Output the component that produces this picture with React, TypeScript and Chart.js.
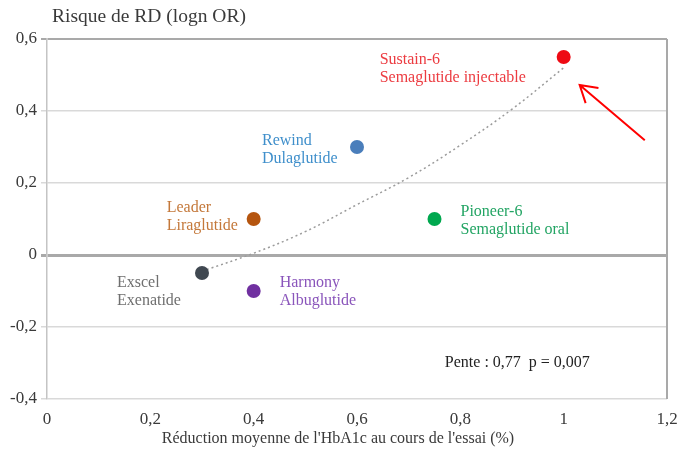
import { useEffect, useRef } from "react";
import { Chart, registerables } from "chart.js";

Chart.register(...registerables);

// ---- Data ----
const trialNames = ["Sustain-6", "Rewind", "Leader", "Pioneer-6", "Exscel", "Harmony"];
const drugNames = ["Semaglutide injectable", "Dulaglutide", "Liraglutide", "Semaglutide oral", "Exenatide", "Albuglutide"];
const hba1cReduction = [1.0, 0.6, 0.4, 0.75, 0.3, 0.4];
const rdLognOR = [0.55, 0.3, 0.1, 0.1, -0.05, -0.1];

// dotted trend curve
const trendX = [0.3, 0.4, 0.5, 0.6, 0.7, 0.8, 0.9, 1.0];
const trendY = [-0.045, 0.005, 0.065, 0.14, 0.215, 0.305, 0.405, 0.52];

const xTicks = [0, 0.2, 0.4, 0.6, 0.8, 1, 1.2];
const yTicks = [-0.4, -0.2, 0, 0.2, 0.4, 0.6];

const yAxisTitle = "Risque de RD (logn OR)";
const xAxisTitle = "Réduction moyenne de l'HbA1c au cours de l'essai (%)";
const statsText = "Pente : 0,77  p = 0,007";
const statsAt = [0.77, -0.3];

// red arrow annotation (data coordinates): tail -> tip
const arrowTail = [1.157, 0.319];
const arrowTip = [1.031, 0.472];

// ---- Styles ----
const pointColors = ["#ee0a14", "#4a7ebb", "#b5550f", "#00a84f", "#404851", "#7030a0"];
const labelColors = ["#ec3b40", "#3f8fcb", "#c4783a", "#22a463", "#6f6f6f", "#8a55bb"];
// label offsets in pixels from the marker centre: [dx, dy of first line]
const labelOffsets = [
  [-184, 3],
  [-95, -6],
  [-87, -11],
  [26, -7],
  [-85, 10],
  [26, -8],
];
const SERIF = "'Liberation Serif', 'Times New Roman', serif";
const TEXT_COLOR = "#3a3a3a";

const fmt = (v: number) => {
  const r = Math.round(v * 10) / 10;
  return String(r).replace(".", ",");
};

const annotationPlugin = {
  id: "annotations",
  afterDatasetsDraw(chart: any) {
    const { ctx, scales, chartArea } = chart;
    const xs = scales.x;
    const ys = scales.y;
    ctx.save();

    // right border
    ctx.strokeStyle = "#a9a9a9";
    ctx.lineWidth = 2;
    ctx.beginPath();
    ctx.moveTo(chartArea.right, chartArea.top);
    ctx.lineTo(chartArea.right, chartArea.bottom);
    ctx.stroke();

    // point labels
    ctx.font = `16px ${SERIF}`;
    ctx.textBaseline = "middle";
    ctx.textAlign = "left";
    hba1cReduction.forEach((xv, i) => {
      const px = xs.getPixelForValue(xv);
      const py = ys.getPixelForValue(rdLognOR[i]);
      const [dx, dy] = labelOffsets[i];
      ctx.fillStyle = labelColors[i];
      ctx.fillText(trialNames[i], px + dx, py + dy);
      ctx.fillText(drugNames[i], px + dx, py + dy + 18);
    });

    // stats text
    ctx.fillStyle = "#222";
    ctx.font = `16px ${SERIF}`;
    ctx.fillText(statsText, xs.getPixelForValue(statsAt[0]), ys.getPixelForValue(statsAt[1]));

    // arrow
    const tx = xs.getPixelForValue(arrowTail[0]);
    const ty = ys.getPixelForValue(arrowTail[1]);
    const hx = xs.getPixelForValue(arrowTip[0]);
    const hy = ys.getPixelForValue(arrowTip[1]);
    ctx.strokeStyle = "#ff0000";
    ctx.lineWidth = 2;
    ctx.beginPath();
    ctx.moveTo(tx, ty);
    ctx.lineTo(hx, hy);
    const ang = Math.atan2(ty - hy, tx - hx);
    const L = 19;
    const spread = 0.55;
    ctx.moveTo(hx + L * Math.cos(ang - spread), hy + L * Math.sin(ang - spread));
    ctx.lineTo(hx, hy);
    ctx.lineTo(hx + L * Math.cos(ang + spread), hy + L * Math.sin(ang + spread));
    ctx.stroke();

    // axis titles
    ctx.fillStyle = TEXT_COLOR;
    ctx.font = `19.5px ${SERIF}`;
    ctx.textAlign = "left";
    ctx.fillText(yAxisTitle, 52, 17);
    ctx.font = `16px ${SERIF}`;
    ctx.textAlign = "center";
    ctx.fillText(xAxisTitle, 338, 439);

    ctx.restore();
  },
};

export default function App() {
  const canvasRef = useRef<HTMLCanvasElement | null>(null);

  useEffect(() => {
    document.body.style.margin = "0";
    const canvas = canvasRef.current;
    if (!canvas) return;
    const chart = new Chart(canvas, {
      type: "scatter",
      data: {
        datasets: [
          {
            type: "scatter",
            data: hba1cReduction.map((x, i) => ({ x, y: rdLognOR[i] })),
            pointBackgroundColor: pointColors,
            pointBorderColor: pointColors,
            pointRadius: 7,
            pointBorderWidth: 0,
            order: 1,
          } as any,
          {
            type: "line",
            data: trendX.map((x, i) => ({ x, y: trendY[i] })),
            borderColor: "#9b9b9b",
            borderDash: [2, 3],
            borderWidth: 1.5,
            pointRadius: 0,
            tension: 0.4,
            fill: false,
            showLine: true,
            order: 2,
          } as any,
        ],
      },
      options: {
        animation: false,
        responsive: false,
        maintainAspectRatio: false,
        layout: { padding: { top: 39, right: 10, left: 0, bottom: 0 } },
        plugins: {
          legend: { display: false },
          tooltip: { enabled: false },
          title: { display: false },
        },
        scales: {
          x: {
            type: "linear",
            min: 0,
            max: 1.2,
            afterBuildTicks: (scale: any) => {
              scale.ticks = xTicks.map((v) => ({ value: v }));
            },
            afterFit: (scale: any) => {
              scale.height = 59;
              scale.paddingRight = 0;
              scale.paddingLeft = 0;
            },
            grid: { display: false },
            border: { display: false },
            ticks: {
              callback: (v: any) => fmt(Number(v)),
              font: { family: SERIF, size: 17 },
              color: TEXT_COLOR,
              padding: 2,
              maxRotation: 0,
            },
          },
          y: {
            type: "linear",
            min: -0.4,
            max: 0.6,
            afterBuildTicks: (scale: any) => {
              scale.ticks = yTicks.map((v) => ({ value: v }));
            },
            afterFit: (scale: any) => {
              scale.width = 47;
            },
            grid: {
              color: (c: any) => {
                const v = c.tick ? c.tick.value : 1;
                if (Math.abs(v) < 1e-9 || Math.abs(v - 0.6) < 1e-9) return "#a9a9a9";
                return "#d9d9d9";
              },
              lineWidth: (c: any) => {
                const v = c.tick ? c.tick.value : 1;
                if (Math.abs(v) < 1e-9) return 3;
                if (Math.abs(v - 0.6) < 1e-9) return 2;
                return 1.5;
              },
              tickLength: 6,
              drawTicks: true,
            },
            border: { display: true, color: "#c4c4c4", width: 1.5 },
            ticks: {
              callback: (v: any) => fmt(Number(v)),
              font: { family: SERIF, size: 17 },
              color: TEXT_COLOR,
              padding: 4,
            },
          },
        },
      },
      plugins: [annotationPlugin],
    });
    return () => chart.destroy();
  }, []);

  return (
    <div style={{ width: 677, height: 458, background: "#fff" }}>
      <canvas ref={canvasRef} width={677} height={458} style={{ display: "block" }} />
    </div>
  );
}
